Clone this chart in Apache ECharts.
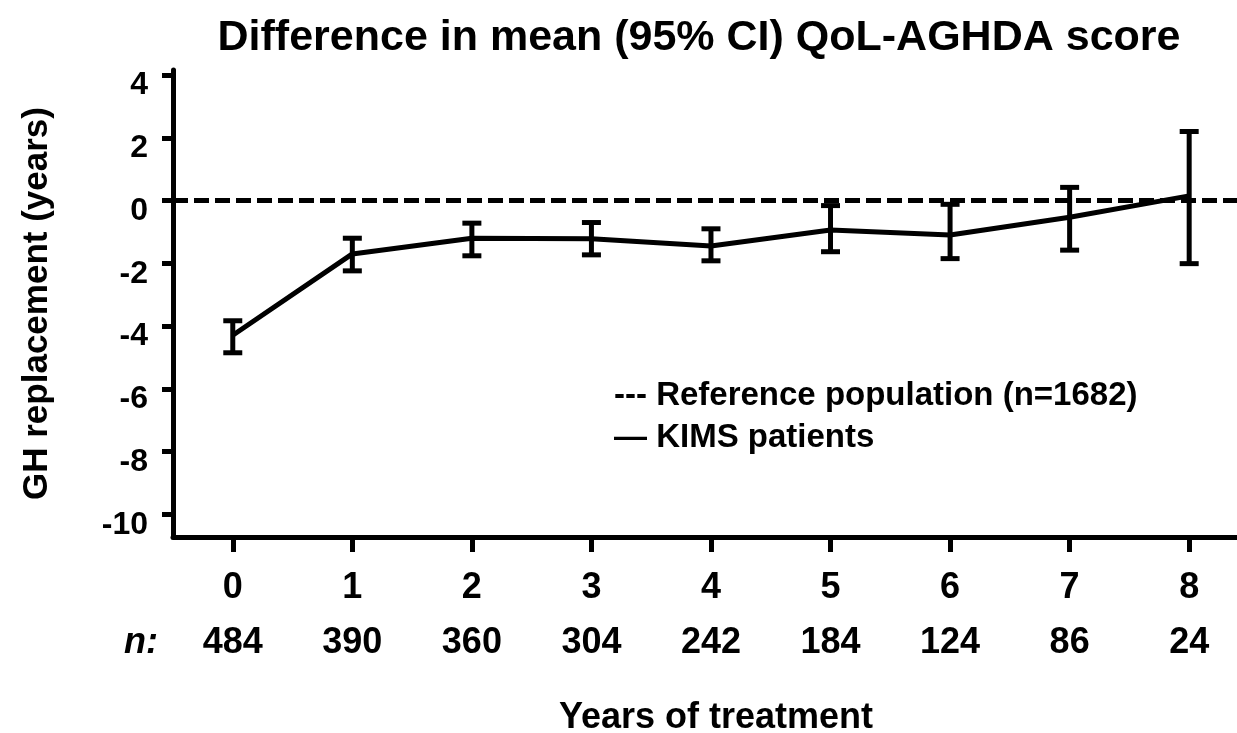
<!DOCTYPE html>
<html>
<head>
<meta charset="utf-8">
<script src="https://cdn.jsdelivr.net/npm/echarts@6/dist/echarts.min.js"></script>
<style>
  html, body { margin: 0; padding: 0; background: #fff; }
  #chart { width: 1237px; height: 733px; }
</style>
</head>
<body>
<div id="chart"></div>
<script>
// Years of GH treatment and number of patients at each year
const years = [0, 1, 2, 3, 4, 5, 6, 7, 8];
const nPatients = [484, 390, 360, 304, 242, 184, 124, 86, 24];

// Difference in mean QoL-AGHDA score vs reference population, with 95% CI
const meanDiff = [-4.29, -1.70, -1.20, -1.22, -1.45, -0.94, -1.10, -0.53, 0.15];
const ciLower  = [-4.85, -2.24, -1.76, -1.73, -1.92, -1.63, -1.85, -1.58, -2.01];
const ciUpper  = [-3.83, -1.20, -0.72, -0.70, -0.90, -0.16, -0.12, 0.42, 2.20];

// Y axis tick values
const yTicks = [-10, -8, -6, -4, -2, 0, 2, 4];

const FONT = '"Liberation Sans", Arial, Helvetica, sans-serif';

const chart = echarts.init(document.getElementById('chart'), null, { renderer: 'canvas' });

const option = {
  backgroundColor: '#fff',
  animation: false,
  title: {
    text: 'Difference in mean (95% CI) QoL-AGHDA score',
    left: 694,
    top: 12,
    textAlign: 'center',
    textStyle: { fontFamily: FONT, fontSize: 43, fontWeight: 'bold', color: '#000' }
  },
  grid: { left: 173, right: 0, top: 70, bottom: 196, containLabel: false },
  xAxis: {
    type: 'value',
    min: -0.5,
    max: 8.4,
    splitLine: { show: false },
    axisLine: { show: true, onZero: false, lineStyle: { color: '#000', width: 5 } },
    axisTick: { show: true, customValues: years, length: 15, lineStyle: { color: '#000', width: 5 } },
    axisLabel: {
      customValues: years,
      margin: 24,
      fontFamily: FONT,
      color: '#000',
      formatter: (v) => '{y|' + v + '}\n{n|' + nPatients[years.indexOf(v)] + '}',
      rich: {
        y: { fontFamily: FONT, fontSize: 36, fontWeight: 'bold', color: '#000', lineHeight: 55 },
        n: { fontFamily: FONT, fontSize: 36, fontWeight: 'bold', color: '#000', lineHeight: 55 }
      }
    }
  },
  yAxis: {
    type: 'value',
    min: -10.72,
    max: 4.16,
    name: 'GH replacement (years)',
    nameLocation: 'middle',
    nameGap: 118,
    nameTextStyle: { fontFamily: FONT, fontSize: 35, fontWeight: 'bold', color: '#000' },
    splitLine: { show: false },
    axisLine: { show: true, onZero: false, lineStyle: { color: '#000', width: 5 } },
    axisTick: { show: true, customValues: yTicks, length: 11, lineStyle: { color: '#000', width: 5 } },
    axisLabel: {
      customValues: yTicks,
      margin: 25,
      verticalAlign: 'top',
      lineHeight: 21,
      fontFamily: FONT,
      fontSize: 32,
      fontWeight: 'bold',
      color: '#000'
    }
  },
  graphic: [
    {
      type: 'text', left: 124, top: 625,
      style: { text: 'n:', fontFamily: FONT, fontSize: 36, fontWeight: 'bold', fontStyle: 'italic', fill: '#000' }
    },
    {
      type: 'text', x: 716, y: 718,
      style: { text: 'Years of treatment', fontFamily: FONT, fontSize: 36, fontWeight: 'bold', fill: '#000',
               align: 'center', verticalAlign: 'middle' }
    },
    {
      type: 'text', x: 614, y: 396,
      style: { text: '--- Reference population (n=1682)', fontFamily: FONT, fontSize: 33, fontWeight: 'bold', fill: '#000',
               align: 'left', verticalAlign: 'middle' }
    },
    {
      type: 'text', x: 614, y: 438,
      style: { text: '\u2014 KIMS patients', fontFamily: FONT, fontSize: 33, fontWeight: 'bold', fill: '#000',
               align: 'left', verticalAlign: 'middle' }
    }
  ],
  series: [
    {
      name: 'Reference population',
      type: 'line',
      data: [],
      markLine: {
        silent: true,
        symbol: 'none',
        label: { show: false },
        lineStyle: { color: '#000', width: 5, type: [15, 6] },
        data: [{ yAxis: 0 }]
      }
    },
    {
      name: 'KIMS patients',
      type: 'line',
      data: years.map((y, i) => [y, meanDiff[i]]),
      showSymbol: false,
      symbol: 'none',
      lineStyle: { color: '#000', width: 5 },
      z: 3
    },
    {
      name: '95% CI',
      type: 'custom',
      data: years.map((y, i) => [y, ciLower[i], ciUpper[i]]),
      z: 4,
      renderItem: (params, api) => {
        const x = api.value(0);
        const lo = api.coord([x, api.value(1)]);
        const hi = api.coord([x, api.value(2)]);
        const hw = 9.5;
        const style = { stroke: '#000', lineWidth: 5 };
        return {
          type: 'group',
          children: [
            { type: 'line', shape: { x1: lo[0], y1: lo[1], x2: hi[0], y2: hi[1] }, style },
            { type: 'line', shape: { x1: lo[0] - hw, y1: lo[1], x2: lo[0] + hw, y2: lo[1] }, style },
            { type: 'line', shape: { x1: hi[0] - hw, y1: hi[1], x2: hi[0] + hw, y2: hi[1] }, style }
          ]
        };
      }
    }
  ]
};

chart.setOption(option);
</script>
</body>
</html>
